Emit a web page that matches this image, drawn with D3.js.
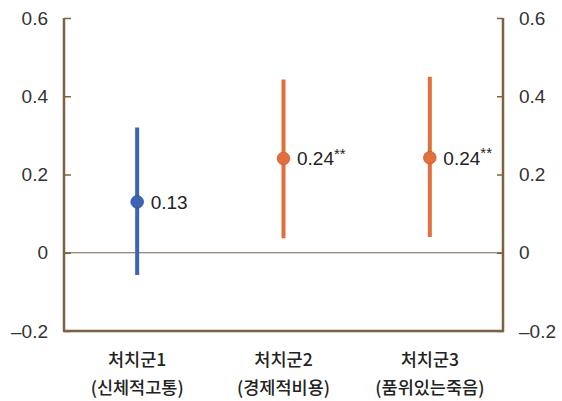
<!DOCTYPE html>
<html>
<head>
<meta charset="utf-8">
<script src="https://cdn.jsdelivr.net/npm/d3@7"></script>
<style type="text/css">
  body{
    background: white;
    margin: 0px;
    font-family: 'Liberation Sans', 'Noto Sans CJK KR', sans-serif;
  }
  .tickText{ font-size: 19px; fill: #333; }
  .catText{ font-family: 'Noto Sans CJK KR', sans-serif; font-size: 17.5px; font-weight: 500; fill: #222; }
  .valText{ font-size: 19px; fill: #222; }
</style>
</head>
<body>
<svg id="chart" width="562" height="401"></svg>
<script>

// data
var groups = ['처치군1', '처치군2', '처치군3'];
var groupSub = ['(신체적고통)', '(경제적비용)', '(품위있는죽음)'];
var estimate = [0.13, 0.241, 0.243];
var ciLow = [-0.057, 0.037, 0.04];
var ciHigh = [0.32, 0.443, 0.45];
var valLabels = ['0.13', '0.24', '0.24'];
var stars = ['', '**', '**'];
var tickValues = [-0.2, 0, 0.2, 0.4, 0.6];
var tickLabels = ['–0.2', '0', '0.2', '0.4', '0.6'];
var colors = ['#3d63b3', '#e2703f', '#e2703f'];
var strokeColors = ['#2f4f96', '#c95c30', '#c95c30'];

var axisColor = '#7d6241';

var svg = d3.select('#chart');

var plotLeft = 64, plotRight = 503, plotTop = 18, plotBottom = 331;

var x = d3.scaleBand().domain(groups).range([plotLeft, plotRight]);
var y = d3.scaleLinear().domain([-0.2, 0.6]).range([plotBottom, plotTop]);

// zero line
svg.append('line')
  .attr('x1', plotLeft).attr('x2', plotRight)
  .attr('y1', y(0)).attr('y2', y(0))
  .attr('stroke', axisColor).attr('stroke-width', 1);

// left axis
var gLeft = svg.append('g').attr('transform', 'translate(' + plotLeft + ',0)');
gLeft.call(d3.axisRight(y).tickValues(tickValues).tickSize(7).tickFormat(''));
gLeft.select('.domain').remove();
gLeft.selectAll('.tick line').attr('stroke', axisColor).attr('stroke-width', 1.5);
gLeft.append('line').attr('x1', 0).attr('x2', 0).attr('y1', plotTop).attr('y2', plotBottom)
  .attr('stroke', axisColor).attr('stroke-width', 2.5);

// right axis
var gRight = svg.append('g').attr('transform', 'translate(' + plotRight + ',0)');
gRight.call(d3.axisLeft(y).tickValues(tickValues).tickSize(6).tickFormat(''));
gRight.select('.domain').remove();
gRight.selectAll('.tick line').attr('stroke', axisColor).attr('stroke-width', 1.5);
gRight.append('line').attr('x1', 0).attr('x2', 0).attr('y1', plotTop).attr('y2', plotBottom + 1)
  .attr('stroke', axisColor).attr('stroke-width', 2.5);

// bottom axis
svg.append('line')
  .attr('x1', plotLeft - 1).attr('x2', plotRight + 1)
  .attr('y1', plotBottom).attr('y2', plotBottom)
  .attr('stroke', axisColor).attr('stroke-width', 2.5);

// tick labels
tickValues.forEach(function(v, i) {
  svg.append('text').attr('class', 'tickText')
    .attr('x', 48).attr('y', y(v)).attr('dy', '0.35em')
    .attr('text-anchor', 'end').text(tickLabels[i]);
  svg.append('text').attr('class', 'tickText')
    .attr('x', 519).attr('y', y(v)).attr('dy', '0.35em')
    .attr('text-anchor', 'start').text(tickLabels[i]);
});

// whiskers + points
groups.forEach(function(g, i) {
  var cx = x(g) + x.bandwidth() / 2;
  svg.append('line')
    .attr('x1', cx).attr('x2', cx)
    .attr('y1', y(ciHigh[i])).attr('y2', y(ciLow[i]))
    .attr('stroke', colors[i]).attr('stroke-width', 4);
  svg.append('circle')
    .attr('cx', cx).attr('cy', y(estimate[i])).attr('r', 6.3)
    .attr('fill', colors[i]).attr('stroke', strokeColors[i]).attr('stroke-width', 0.8);

  var t = svg.append('text').attr('class', 'valText')
    .attr('x', cx + 13.5).attr('y', y(estimate[i])).attr('dy', '0.36em');
  t.append('tspan').text(valLabels[i]);
  if (stars[i]) t.append('tspan').attr('dy', '-0.45em').attr('font-size', '15px').text(stars[i]);

  svg.append('text').attr('class', 'catText')
    .attr('x', cx).attr('y', 366).attr('text-anchor', 'middle').text(g);
  svg.append('text').attr('class', 'catText')
    .attr('x', cx).attr('y', 394).attr('text-anchor', 'middle').text(groupSub[i]);
});

</script>
</body>
</html>
